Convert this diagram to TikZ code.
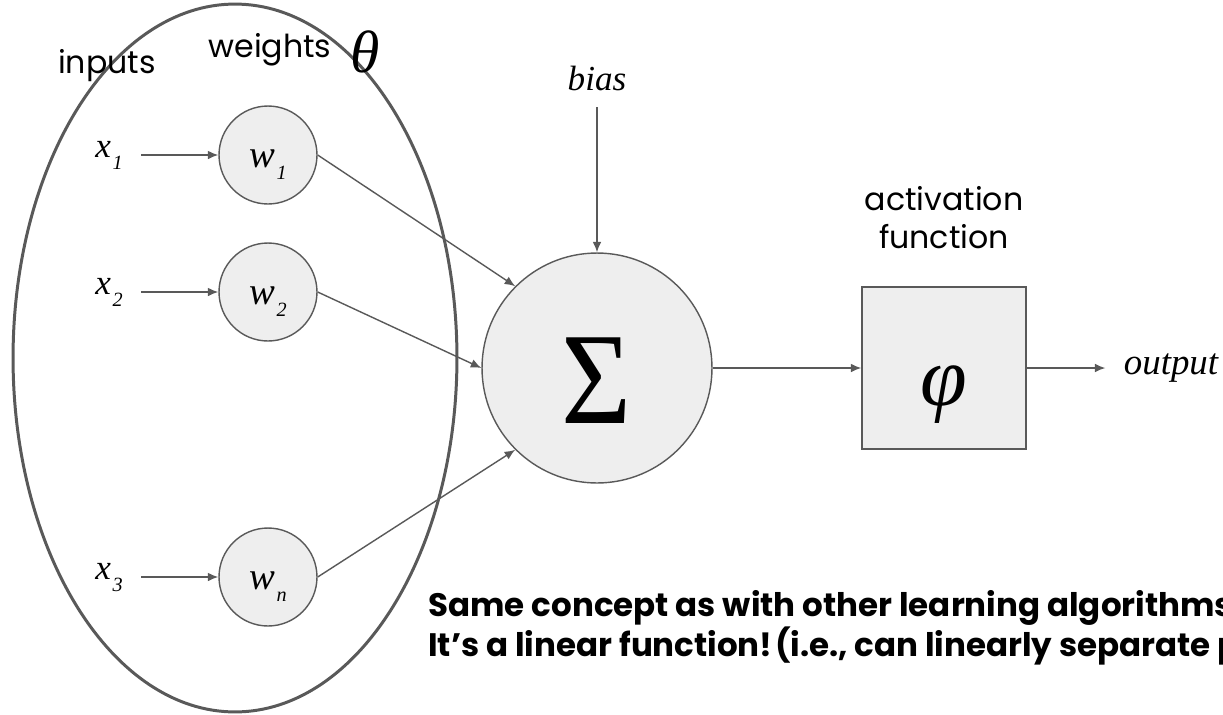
\documentclass[tikz,border=0pt]{standalone}
\usepackage{fontspec}
\setmainfont{Liberation Serif}
\setsansfont{Poppins}
\usetikzlibrary{positioning, arrows.meta}
\definecolor{edge}{HTML}{595959}
\definecolor{cell}{HTML}{EEEEEE}
\newcommand{\idx}[2]{#1\kern1pt\lower7pt\hbox{\fontsize{11.5}{13}\selectfont #2}}
\newcommand{\drop}[2]{\raisebox{-#1}[0pt][0pt]{#2}}

\tikzset{
  unit/.style={circle, draw=edge, fill=cell, line width=0.8pt,
    minimum size=1.96cm, inner sep=0pt},
  wire/.style={draw=edge, line width=0.8pt, -{Latex[length=6pt, width=5pt]}},
  sym/.style={font=\rmfamily\itshape\fontsize{20}{24}\selectfont},
  tag/.style={font=\sffamily\fontsize{18}{22}\selectfont}
}

\begin{document}
\frenchspacing
\begin{tikzpicture}[x=0.02cm, y=-0.02cm, font=\sffamily]
  \useasboundingbox (0,0) rectangle (1223,714);

  \draw[edge, line width=1.7pt] (235,358) ellipse [x radius=4.44cm, y radius=7.08cm];

  \node[tag] (inlabel) at (107,66) {inputs};
  \node[tag] (wlabel) at (270,50) {weights};
  \node[right=0.14cm of wlabel, yshift=-1pt,
    font=\rmfamily\itshape\fontsize{34}{34}\selectfont] (theta) {θ};

  \foreach \i/\y/\w/\x in {1/155/1/1, 2/292/2/2, 3/577/n/3} {
    \node[sym, anchor=base] (x\i) at (109,\y+2) {\idx{x}{\x}};
    \node[unit, sym, font=\rmfamily\itshape\fontsize{22}{24}\selectfont] (w\i) at (268,\y)
      {\drop{7pt}{\idx{w}{\w}}};
    \draw[wire, shorten <=7pt] (x\i.east |- w\i.west) -- (w\i.west);
  }

  \node[circle, draw=edge, fill=cell, line width=0.8pt, minimum size=4.6cm,
    inner sep=0pt, font=\rmfamily\fontsize{74.5}{75}\selectfont] (sum) at (597,368)
    {\drop{31.5pt}{\scalebox{0.92}[1]{Σ}}};
  \node[sym] (bias) at (597,78) {bias};
  \draw[wire, shorten <=6pt] (bias) -- (sum);

  \draw[wire] (w1.east) -- (sum.135);
  \draw[wire] (w2.east) -- (sum.west);
  \draw[wire] (w3.east) -- (sum.225);

  \node[draw=edge, fill=cell, line width=0.8pt, minimum width=3.28cm,
    minimum height=3.24cm, inner sep=0pt,
    font=\rmfamily\itshape\fontsize{48}{48}\selectfont] (act) at (944,368)
    {\drop{21.5pt}{φ}};
  \node[tag, align=center, above=0.62cm of act] (actlabel) {activation\\function};
  \draw[wire] (sum) -- (act);

  \node[sym, font=\rmfamily\itshape\fontsize{21}{24}\selectfont,
    right=1.82cm of act] (out) {output};
  \draw[wire, shorten >=7pt] (act) -- (out);

  \node[anchor=north west, inner sep=0pt, align=left,
    font=\sffamily\bfseries\fontsize{18.5}{21}\selectfont] (note) at (428,590)
    {Same concept as with other learning algorithms\\
     It’s a linear function!\kern-2.5pt\ (i.e., can linearly separate p};
\end{tikzpicture}
\end{document}
